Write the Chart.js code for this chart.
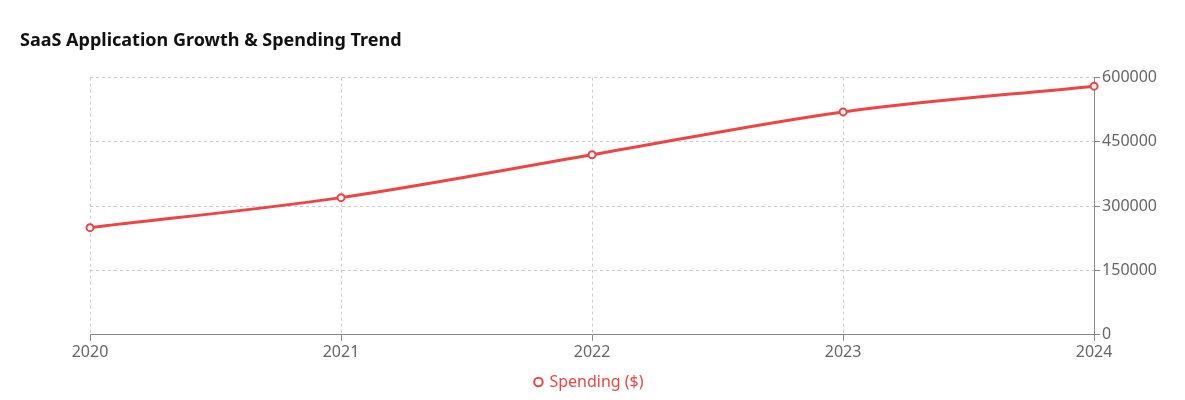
<!DOCTYPE html>
<html>
<head>
<meta charset="utf-8">
<script src="https://cdn.jsdelivr.net/npm/chart.js@4"></script>
<style>
  html, body { margin: 0; padding: 0; background: #fff; }
  #wrap { width: 1185px; height: 400px; position: relative; }
</style>
</head>
<body>
<div id="wrap"><canvas id="chart"></canvas></div>
<script>
// SaaS spending trend
const years = ["2020", "2021", "2022", "2023", "2024"];
const spending = [250000, 320000, 420000, 520000, 580000];
const yTicks = [0, 150000, 300000, 450000, 600000];

const red = "#ef4444";
const gridColor = "#cccccc";
const axisColor = "#888888";
const tickColor = "#666666";

new Chart(document.getElementById("chart"), {
  type: "line",
  data: {
    labels: years,
    datasets: [
      {
        label: "Spending ($)",
        data: spending,
        borderColor: red,
        backgroundColor: "#fff",
        borderWidth: 3,
        cubicInterpolationMode: "monotone",
        pointRadius: 3.5,
        pointBorderWidth: 2,
        pointBackgroundColor: "#fff",
        pointBorderColor: red,
      },
    ],
  },
  options: {
    responsive: true,
    maintainAspectRatio: false,
    animation: false,
    layout: { padding: { left: 20, right: 26, top: 10, bottom: 0 } },
    plugins: {
      title: {
        display: true,
        text: "SaaS Application Growth & Spending Trend",
        align: "start",
        color: "#111",
        font: { family: "Segoe UI, Noto Sans, sans-serif", size: 18, weight: "bold" },
        padding: { top: 20, bottom: 26 },
        fullSize: true,
      },
      legend: {
        position: "bottom",
        labels: {
          color: red,
          usePointStyle: true,
          pointStyle: "circle",
          boxWidth: 6,
          boxHeight: 6,
          font: { family: "Noto Sans, sans-serif", size: 16 },
        },
      },
      tooltip: { enabled: false },
    },
    scales: {
      x: {
        offset: false,
        grid: { color: gridColor, tickColor: axisColor, tickLength: 6 },
        border: { color: axisColor, dash: [3, 3], display: true },
        ticks: { color: tickColor, font: { family: "Noto Sans, sans-serif", size: 16 }, padding: 2 },
      },
      y: {
        position: "right",
        min: 0,
        max: 600000,
        afterBuildTicks: (axis) => { axis.ticks = yTicks.map((v) => ({ value: v })); },
        grid: { color: gridColor, tickColor: axisColor, tickLength: 6 },
        border: { color: axisColor, dash: [3, 3] },
        ticks: {
          color: tickColor,
          font: { family: "Noto Sans, sans-serif", size: 16 },
          padding: 2,
          callback: (v) => String(v),
        },
      },
      // empty left gutter so the plot starts where the reference does
      spacer: {
        type: "linear",
        position: "left",
        display: true,
        grid: { display: false },
        border: { display: false },
        ticks: { display: false },
        afterFit: (axis) => { axis.width = 70; },
      },
    },
  },
});
</script>
</body>
</html>
